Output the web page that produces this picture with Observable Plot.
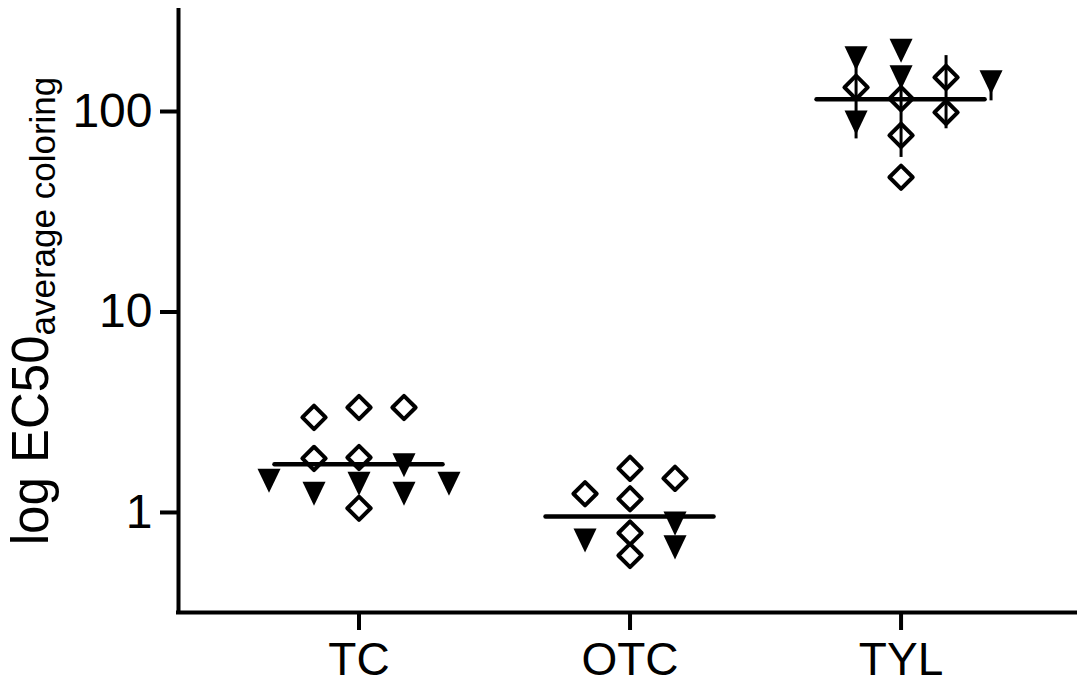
<!DOCTYPE html>
<html>
<head>
<meta charset="utf-8">
<script src="https://cdn.jsdelivr.net/npm/d3@7"></script>
<script src="https://cdn.jsdelivr.net/npm/@observablehq/plot@0.6"></script>
<style>
  html, body { margin: 0; padding: 0; background: #ffffff; }
  #chart svg { display: block; }
</style>
</head>
<body>
<div id="chart"></div>
<script>
// ---- data ----
const categories = ["TC", "OTC", "TYL"];
const yTicks = [1, 10, 100];

// open diamonds
const diamondGroup  = ["TC","TC","TC","TC","TC","TC", "OTC","OTC","OTC","OTC","OTC","OTC", "TYL","TYL","TYL","TYL","TYL","TYL"];
const diamondColumn = [-1, 0, 1, -1, 0, 0,   -1, 0, 0, 1, 0, 0,   -1, 0, 0, 0, 1, 1];
const diamondValue  = [2.98, 3.34, 3.34, 1.86, 1.88, 1.05,   1.24, 1.66, 1.17, 1.48, 0.79, 0.61,   132, 116, 76, 47, 148, 99];

// filled down-pointing triangles
const triangleGroup  = ["TC","TC","TC","TC","TC","TC", "OTC","OTC","OTC", "TYL","TYL","TYL","TYL","TYL"];
const triangleColumn = [-2, -1, 0, 1, 1, 2,   -1, 1, 1,   -1, -1, 0, 0, 2];
const triangleValue  = [1.44, 1.24, 1.39, 1.72, 1.24, 1.39,   0.725, 0.88, 0.67,   184, 88, 201, 148, 140];

// horizontal summary line per group
const lineValue = [1.74, 0.955, 115];

// small vertical stems (error bars) seen in TYL
const stemGroup  = ["TYL", "TYL", "TYL", "TYL"];
const stemColumn = [-1, 0, 1, 2];
const stemLow    = [73, 59, 82, 113];
const stemHigh   = [180, 148, 190, 140];

// ---- layout constants ----
const colStep = 0.166;     // horizontal spacing between jitter columns (x units)
const lineHalf = 0.31;     // half-width of summary line (x units)
const xDomain = [0.334, 3.651];
const yDomain = [0.317, 319];

const pos = (g, c) => categories.indexOf(g) + 1 + c * colStep;

const diamonds = diamondValue.map((v, i) => ({x: pos(diamondGroup[i], diamondColumn[i]), y: v}));
const triangles = triangleValue.map((v, i) => ({x: pos(triangleGroup[i], triangleColumn[i]), y: v}));
const stems = stemLow.map((v, i) => ({x: pos(stemGroup[i], stemColumn[i]), y1: v, y2: stemHigh[i]}));
const lines = categories.map((c, i) => ({x1: i + 1 - lineHalf, x2: i + 1 + lineHalf, y: lineValue[i]}));

const triDown = {
  draw(ctx, size) {
    const s = Math.sqrt(size);
    const w = s * 0.65, h = s * 0.68;
    ctx.moveTo(-w, -h);
    ctx.lineTo(w, -h);
    ctx.lineTo(0, h);
    ctx.closePath();
  }
};

const font = "'Liberation Sans', Arial, Helvetica, sans-serif";

const plot = Plot.plot({
  width: 1077,
  height: 685,
  marginLeft: 178,
  marginRight: 0,
  marginTop: 10,
  marginBottom: 73,
  style: {fontFamily: font, color: "#000", background: "#fff"},
  x: {type: "linear", domain: xDomain},
  y: {type: "log", domain: yDomain},
  marks: [
    Plot.axisY({ticks: yTicks, tickFormat: d => String(d), tickSize: 18, tickPadding: 8, fontSize: 48, strokeWidth: 4, label: null}),
    Plot.axisX({ticks: [1, 2, 3], tickFormat: d => categories[d - 1], tickSize: 18, tickPadding: 12, fontSize: 46, strokeWidth: 4, label: null}),
    Plot.ruleX([xDomain[0]], {stroke: "#000", strokeWidth: 4, strokeLinecap: "square"}),
    Plot.ruleY([yDomain[0]], {stroke: "#000", strokeWidth: 4, strokeLinecap: "square"}),
    Plot.ruleX(stems, {x: "x", y1: "y1", y2: "y2", stroke: "#000", strokeWidth: 3}),
    Plot.ruleY(lines, {y: "y", x1: "x1", x2: "x2", stroke: "#000", strokeWidth: 4.5, strokeLinecap: "round"}),
    Plot.dot(triangles, {x: "x", y: "y", symbol: triDown, r: 10, fill: "#000", stroke: "none"}),
    Plot.dot(diamonds, {x: "x", y: "y", symbol: "diamond2", r: 10.5, fill: "none", stroke: "#000", strokeWidth: 4, strokeLinejoin: "round"})
  ]
});

// y-axis title with subscript
const svg = d3.select(plot);
const label = svg.append("text")
  .attr("transform", "translate(48,311) rotate(-90)")
  .attr("text-anchor", "middle")
  .attr("font-family", font)
  .attr("fill", "#000");
label.append("tspan").attr("font-size", 51).text("log EC50");
label.append("tspan").attr("font-size", 35).attr("dy", 7).text("average coloring");

document.getElementById("chart").appendChild(plot);
</script>
</body>
</html>
